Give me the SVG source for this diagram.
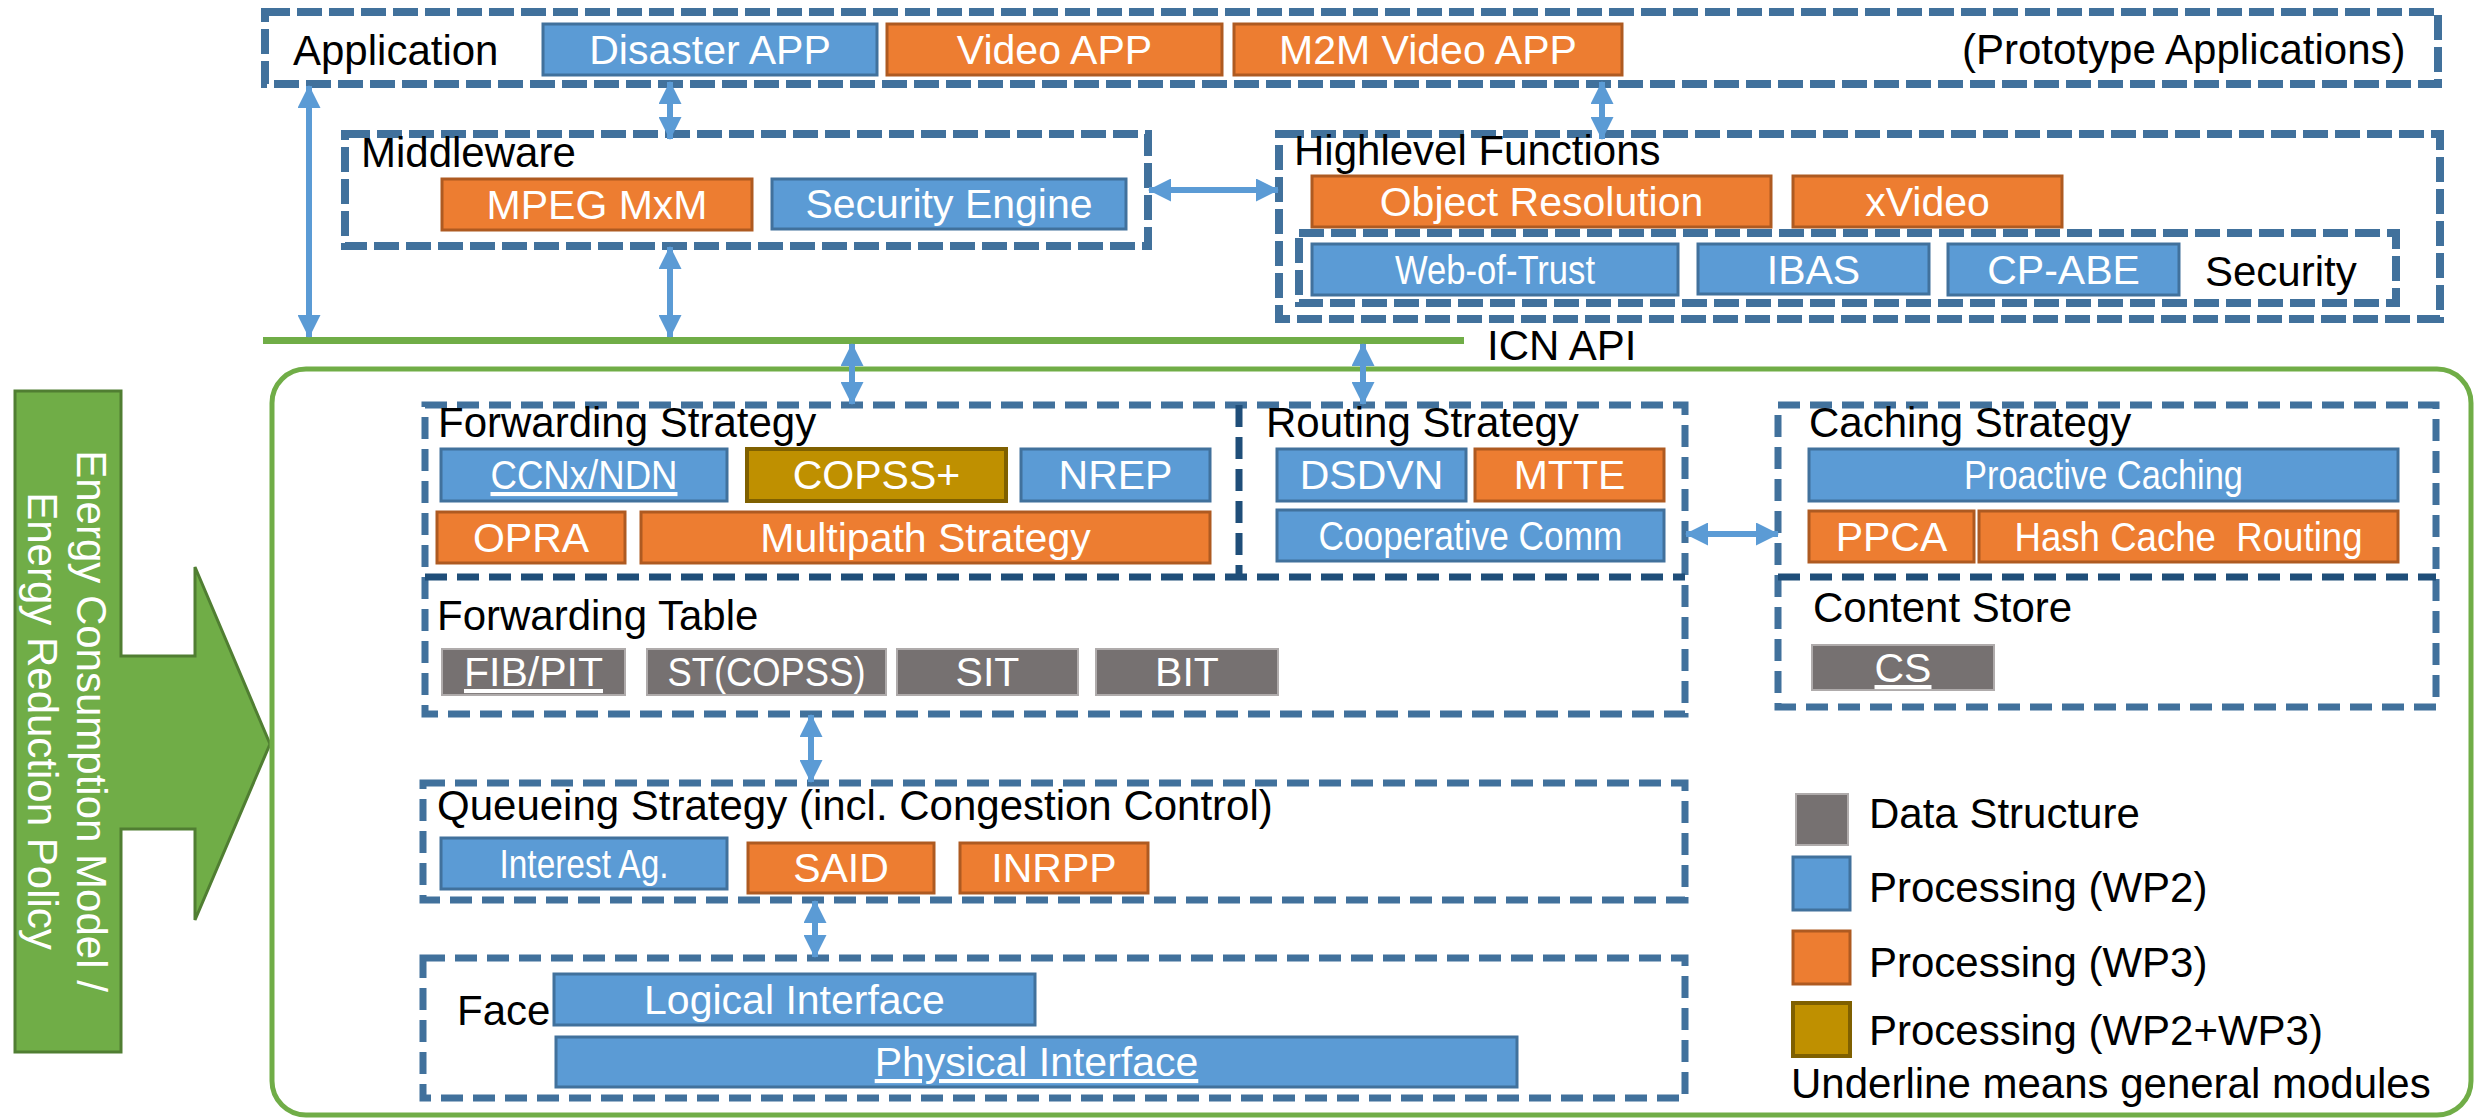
<svg xmlns="http://www.w3.org/2000/svg" width="2478" height="1119" viewBox="0 0 2478 1119">
  <style>
    text { font-family: "Liberation Sans", Arial, sans-serif; }
    .lbl { font-size: 42px; fill: #000; }
    .t { font-size: 41px; fill: #fff; text-anchor: middle; }
    .u { text-decoration: underline; }
    .b { fill: #5B9BD5; stroke: #41719C; stroke-width: 3; }
    .o { fill: #ED7D31; stroke: #AE5A21; stroke-width: 3; }
    .g { fill: #767171; stroke: #AFABAB; stroke-width: 2; }
    .y { fill: #BF9000; stroke: #7F6000; stroke-width: 4; }
    .d1 { fill: none; stroke: #41719C; stroke-width: 8; stroke-dasharray: 25 7; }
    .d2 { fill: none; stroke: #41719C; stroke-width: 7; stroke-dasharray: 22 10; }
    .dk { fill: none; stroke: #1F4E79; stroke-width: 7; stroke-dasharray: 22 10; }
    .arr { stroke: #5B9BD5; stroke-width: 6; fill: none; marker-start: url(#ah); marker-end: url(#ah); }
  </style>
  <defs>
    <marker id="ah" viewBox="0 0 23 23" refX="22" refY="11.5" markerWidth="23" markerHeight="23" markerUnits="userSpaceOnUse" orient="auto-start-reverse">
      <path d="M0,0 L23,11.5 L0,23 Z" fill="#5B9BD5"/>
    </marker>
  </defs>

  <!-- energy policy banner with arrow into the node -->
  <g id="energy">
    <path d="M15,391 H121 V656 H195 V567 L270,744 L195,920 V829 H121 V1052 H15 Z" fill="#70AD47" stroke="#507E32" stroke-width="3"/>
    <text transform="translate(77,721) rotate(90)" font-size="42" fill="#fff" text-anchor="middle">Energy Consumption Model /</text>
    <text transform="translate(28,721) rotate(90)" font-size="42" fill="#fff" text-anchor="middle">Energy Reduction Policy</text>
  </g>

  <!-- ICN node container -->
  <g id="icn-node">
    <rect x="272" y="369" width="2199" height="746" rx="34" fill="none" stroke="#70AD47" stroke-width="5"/>
  </g>

  <!-- ICN API bar -->
  <g id="icn-api">
    <line x1="263" y1="340.5" x2="1464" y2="340.5" stroke="#70AD47" stroke-width="7"/>
    <text class="lbl" x="1487" y="360">ICN API</text>
  </g>

  <!-- Application layer -->
  <g id="application">
    <rect class="d1" x="265" y="12" width="2173" height="72"/>
    <text class="lbl" x="293" y="65">Application</text>
    <text class="lbl" x="1962" y="64">(Prototype Applications)</text>
    <rect class="b" x="543" y="24" width="334" height="51"/>
    <text class="t" x="710" y="64">Disaster APP</text>
    <rect class="o" x="887" y="24" width="335" height="51"/>
    <text class="t" x="1054.5" y="64">Video APP</text>
    <rect class="o" x="1234" y="24" width="388" height="51"/>
    <text class="t" x="1428" y="64">M2M Video APP</text>
  </g>

  <!-- Middleware -->
  <g id="middleware">
    <rect class="d1" x="345" y="134" width="803" height="112"/>
    <text class="lbl" x="361" y="167">Middleware</text>
    <rect class="o" x="442" y="179" width="310" height="51"/>
    <text class="t" x="597" y="219">MPEG MxM</text>
    <rect class="b" x="772" y="179" width="354" height="50"/>
    <text class="t" x="949" y="218">Security Engine</text>
  </g>

  <!-- High-level functions -->
  <g id="highlevel">
    <rect class="d1" x="1279" y="134" width="1161" height="185"/>
    <text class="lbl" x="1294" y="165">Highlevel Functions</text>
    <rect class="o" x="1312" y="176" width="459" height="51"/>
    <text class="t" x="1541.5" y="216">Object Resolution</text>
    <rect class="o" x="1793" y="176" width="269" height="51"/>
    <text class="t" x="1927.5" y="216">xVideo</text>
  </g>

  <g id="security">
    <rect class="d1" x="1299" y="233" width="1097" height="70"/>
    <rect class="b" x="1312" y="244" width="366" height="51"/>
    <text class="t" x="1495" y="284" textLength="200" lengthAdjust="spacingAndGlyphs">Web-of-Trust</text>
    <rect class="b" x="1698" y="244" width="231" height="50"/>
    <text class="t" x="1813.5" y="284">IBAS</text>
    <rect class="b" x="1948" y="244" width="231" height="51"/>
    <text class="t" x="2063.5" y="284">CP-ABE</text>
    <text class="lbl" x="2205" y="286">Security</text>
  </g>

  <!-- Forwarding / routing strategies and forwarding table -->
  <g id="forwarding">
    <rect class="d2" x="425" y="405" width="1260" height="309"/>
    <line class="dk" x1="1239" y1="405" x2="1239" y2="577"/>
    <line class="dk" x1="425" y1="577" x2="1685" y2="577"/>
    <text class="lbl" x="438" y="437">Forwarding Strategy</text>
    <rect class="b" x="441" y="449" width="286" height="52"/>
    <text class="t u" x="584" y="489" textLength="187" lengthAdjust="spacingAndGlyphs">CCNx/NDN</text>
    <rect class="y" x="747" y="449" width="259" height="52"/>
    <text class="t" x="876.5" y="489">COPSS+</text>
    <rect class="b" x="1021" y="449" width="189" height="52"/>
    <text class="t" x="1115.5" y="489">NREP</text>
    <rect class="o" x="437" y="512" width="188" height="51"/>
    <text class="t" x="531" y="552">OPRA</text>
    <rect class="o" x="641" y="512" width="569" height="51"/>
    <text class="t" x="925.5" y="552">Multipath Strategy</text>
  </g>

  <g id="routing">
    <text class="lbl" x="1266" y="437">Routing Strategy</text>
    <rect class="b" x="1277" y="449" width="189" height="52"/>
    <text class="t" x="1371.5" y="489">DSDVN</text>
    <rect class="o" x="1475" y="449" width="189" height="52"/>
    <text class="t" x="1569.5" y="489">MTTE</text>
    <rect class="b" x="1277" y="510" width="387" height="51"/>
    <text class="t" x="1470.5" y="550" textLength="304" lengthAdjust="spacingAndGlyphs">Cooperative Comm</text>
  </g>

  <g id="forwarding-table">
    <text class="lbl" x="437" y="630">Forwarding Table</text>
    <rect class="g" x="442" y="649" width="183" height="46"/>
    <text class="t u" x="533.5" y="686">FIB/PIT</text>
    <rect class="g" x="647" y="649" width="239" height="46"/>
    <text class="t" x="766.5" y="686" textLength="198" lengthAdjust="spacingAndGlyphs">ST(COPSS)</text>
    <rect class="g" x="897" y="649" width="181" height="46"/>
    <text class="t" x="987.5" y="686">SIT</text>
    <rect class="g" x="1096" y="649" width="182" height="46"/>
    <text class="t" x="1187" y="686">BIT</text>
  </g>

  <!-- Caching strategy and content store -->
  <g id="caching">
    <rect class="d2" x="1778" y="405" width="658" height="302"/>
    <line class="dk" x1="1778" y1="577" x2="2436" y2="577"/>
    <text class="lbl" x="1809" y="437">Caching Strategy</text>
    <rect class="b" x="1809" y="449" width="589" height="52"/>
    <text class="t" x="2103.5" y="489" textLength="279" lengthAdjust="spacingAndGlyphs">Proactive Caching</text>
    <rect class="o" x="1809" y="511" width="165" height="51"/>
    <text class="t" x="1891.5" y="551">PPCA</text>
    <rect class="o" x="1979" y="511" width="419" height="51"/>
    <text class="t" x="2188.5" y="551" textLength="348" lengthAdjust="spacingAndGlyphs" xml:space="preserve">Hash Cache  Routing</text>
  </g>

  <g id="content-store">
    <text class="lbl" x="1813" y="622">Content Store</text>
    <rect class="g" x="1812" y="645" width="182" height="45"/>
    <text class="t u" x="1903" y="682">CS</text>
  </g>

  <!-- Queueing strategy -->
  <g id="queueing">
    <rect class="d2" x="423" y="783" width="1262" height="117"/>
    <text class="lbl" x="437" y="820">Queueing Strategy (incl. Congestion Control)</text>
    <rect class="b" x="441" y="838" width="286" height="51"/>
    <text class="t" x="584" y="878" textLength="169" lengthAdjust="spacingAndGlyphs">Interest Ag.</text>
    <rect class="o" x="748" y="843" width="186" height="50"/>
    <text class="t" x="841" y="882">SAID</text>
    <rect class="o" x="960" y="843" width="188" height="50"/>
    <text class="t" x="1054" y="882">INRPP</text>
  </g>

  <!-- Face -->
  <g id="face">
    <rect class="d2" x="423" y="958" width="1262" height="140"/>
    <text class="lbl" x="457" y="1025">Face</text>
    <rect class="b" x="554" y="974" width="481" height="51"/>
    <text class="t" x="794.5" y="1014">Logical Interface</text>
    <rect class="b" x="556" y="1037" width="961" height="50"/>
    <text class="t u" x="1036.5" y="1076">Physical Interface</text>
  </g>

  <!-- Legend -->
  <g id="legend">
    <rect class="g" x="1796" y="794" width="52" height="51"/>
    <text class="lbl" x="1869" y="828">Data Structure</text>
    <rect class="b" x="1793" y="857" width="57" height="53"/>
    <text class="lbl" x="1869" y="902">Processing (WP2)</text>
    <rect class="o" x="1793" y="931" width="57" height="53"/>
    <text class="lbl" x="1869" y="977">Processing (WP3)</text>
    <rect class="y" x="1793" y="1003" width="57" height="53"/>
    <text class="lbl" x="1869" y="1045">Processing (WP2+WP3)</text>
    <text class="lbl" x="1791" y="1098">Underline means general modules</text>
  </g>

  <!-- Connectors -->
  <g id="connectors">
    <line class="arr" x1="309" y1="86" x2="309" y2="337"/>
    <line class="arr" x1="670" y1="82" x2="670" y2="139"/>
    <line class="arr" x1="670" y1="247" x2="670" y2="337"/>
    <line class="arr" x1="1602" y1="82" x2="1602" y2="139"/>
    <line class="arr" x1="1149" y1="190" x2="1278" y2="190"/>
    <line class="arr" x1="852" y1="344" x2="852" y2="404"/>
    <line class="arr" x1="1363" y1="344" x2="1363" y2="404"/>
    <line class="arr" x1="1686" y1="534" x2="1778" y2="534"/>
    <line class="arr" x1="811" y1="715" x2="811" y2="782"/>
    <line class="arr" x1="815" y1="901" x2="815" y2="957"/>
  </g>
</svg>
